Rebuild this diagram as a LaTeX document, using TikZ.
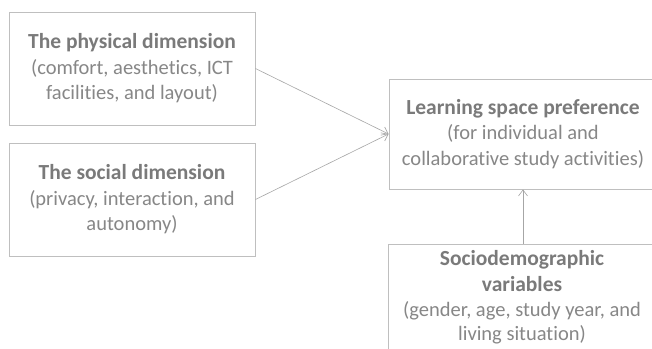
\documentclass[tikz,border=0pt]{standalone}
\usepackage{fontspec}
\setmainfont[Ligatures={NoCommon}]{Carlito}
\usetikzlibrary{arrows.meta}
\definecolor{boxline}{HTML}{BFBFBF}
\definecolor{titlegray}{HTML}{7A7A7A}
\definecolor{textgray}{HTML}{878787}
\definecolor{arrowgray}{HTML}{A6A6A6}
\tikzset{
  box/.style={draw=boxline, line width=0.9pt, minimum width=246pt, minimum height=113pt,
    inner sep=0pt, align=center, text=textgray, font=\fontsize{20.5}{25.5}\selectfont},
  widebox/.style={box, minimum width=268pt, minimum height=110pt},
  conn/.style={draw=arrowgray, line width=0.6pt, -{Straight Barb[length=6pt,width=9pt]}}
}
\newcommand{\ttl}[1]{{\bfseries\color{titlegray}\fontsize{21.5}{25.5}\selectfont #1}}
\begin{document}
\begin{tikzpicture}[x=1pt,y=1pt]
\useasboundingbox (0,0) rectangle (652,348);
\clip (0,0) rectangle (652,348);
\fill[white] (0,0) rectangle (652,348);
\node[box] (phys) at (132,279.5) {\ttl{The physical dimension}\\(comfort, aesthetics, ICT\\facilities, and layout)};
\node[box] (soc) at (132,148.5) {\ttl{The social dimension}\\(privacy, interaction, and\\autonomy)};
\node[widebox] (learn) at (523,214) {\ttl{Learning space preference}\\(for individual and\\collaborative study activities)};
\node[box, minimum width=268pt, minimum height=107pt] (socio) at (522,50.5) {\ttl{Sociodemographic}\\\ttl{variables}\\(gender, age, study year, and\\[-1.5pt]living situation)};
\draw[conn] (phys.east) -- (learn.west);
\draw[conn] (soc.east) -- (learn.west);
\draw[conn] (socio.north -| learn.south) -- (learn.south);
\end{tikzpicture}
\end{document}
